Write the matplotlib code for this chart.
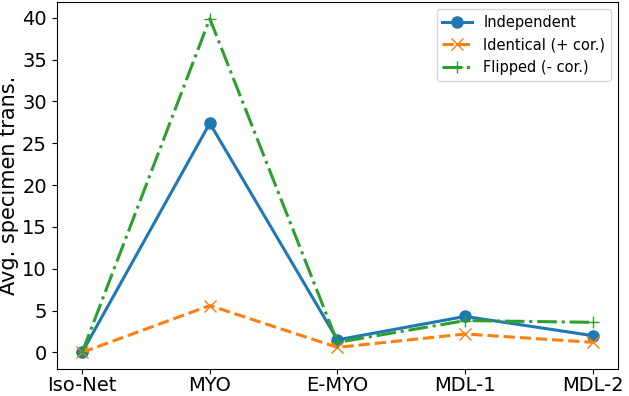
import matplotlib
matplotlib.use("Agg")
import matplotlib.pyplot as plt

methods = ["Iso-Net", "MYO", "E-MYO", "MDL-1", "MDL-2"]
independent = [0.0, 27.4, 1.5, 4.3, 2.0]
identical = [0.0, 5.6, 0.6, 2.2, 1.2]
flipped = [0.0, 39.9, 1.2, 3.8, 3.6]

fig = plt.figure(figsize=(6.29, 3.96), dpi=100)
ax = fig.add_axes([0.09, 0.068, 0.893, 0.927])

ax.plot(methods, independent, "-o", color="#1f77b4", lw=2.2, ms=8, label="Independent")
ax.plot(methods, identical, "--x", color="#ff7f0e", lw=2.2, ms=8, label="Identical (+ cor.)")
ax.plot(methods, flipped, "-.+", color="#2ca02c", lw=2.2, ms=9, label="Flipped (- cor.)")

ax.set_ylabel("Avg. specimen trans.", fontsize=15, labelpad=2)
ax.tick_params(labelsize=14)
ax.tick_params(axis="x", pad=1.5)
ax.legend(fontsize=10.5, loc="upper right")

fig.savefig("out.png", dpi=100)
